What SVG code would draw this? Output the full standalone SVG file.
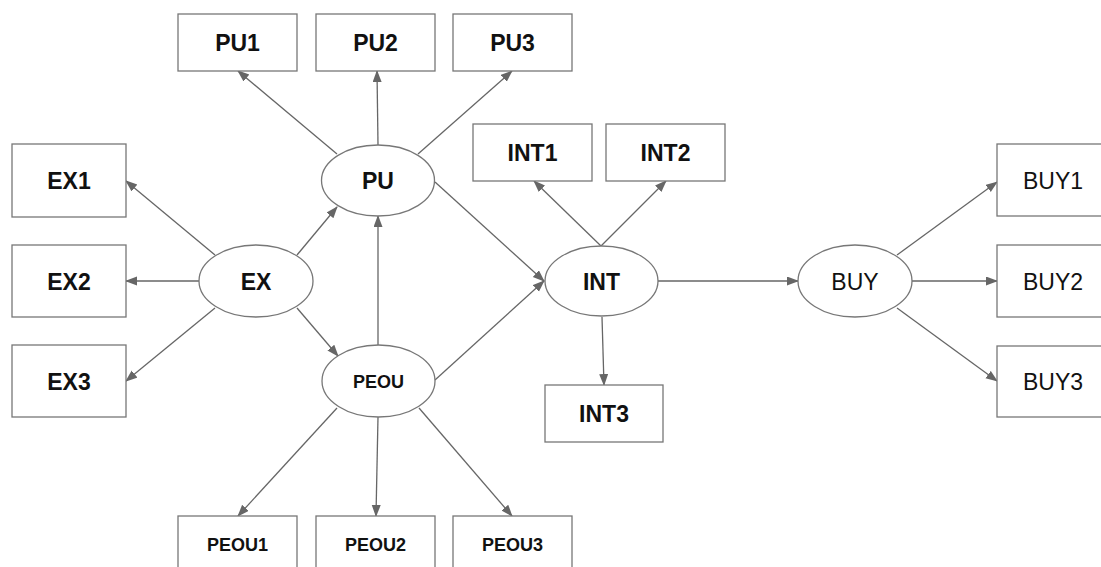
<svg xmlns="http://www.w3.org/2000/svg" width="1101" height="567" viewBox="0 0 1101 567">
<style>
.box{fill:#fff;stroke:#777;stroke-width:1.3}
.ell{fill:#fff;stroke:#777;stroke-width:1.3}
.t{font-family:"Liberation Sans",Arial,sans-serif;font-size:23px;font-weight:bold;fill:#111;text-anchor:middle}
.s{font-size:18px}
.r{font-weight:normal}
.c{stroke:#666;stroke-width:1.3;fill:none;marker-end:url(#ah)}
</style>
<defs>
<marker id="ah" markerUnits="userSpaceOnUse" markerWidth="12" markerHeight="10" refX="11" refY="4.5" orient="auto">
<path d="M0,0 L12,4.5 L0,9 Z" fill="#666"/>
</marker>
</defs>
<rect width="1101" height="567" fill="#fff"/>
<g id="connectors">
<line class="c" x1="337" y1="154" x2="238" y2="71"/>
<line class="c" x1="378" y1="145" x2="377" y2="71"/>
<line class="c" x1="418" y1="154" x2="512" y2="71"/>
<line class="c" x1="435" y1="182" x2="544" y2="281"/>
<line class="c" x1="435" y1="380" x2="544" y2="281"/>
<line class="c" x1="215" y1="255" x2="126" y2="181"/>
<line class="c" x1="199" y1="281" x2="126" y2="281"/>
<line class="c" x1="215" y1="308" x2="126" y2="381"/>
<line class="c" x1="297" y1="255" x2="337" y2="207"/>
<line class="c" x1="297" y1="308" x2="338" y2="356"/>
<line class="c" x1="378" y1="345" x2="378" y2="216"/>
<line class="c" x1="337" y1="408" x2="238" y2="516"/>
<line class="c" x1="378" y1="417" x2="376" y2="516"/>
<line class="c" x1="419" y1="408" x2="512" y2="516"/>
<line class="c" x1="601" y1="246" x2="534" y2="181"/>
<line class="c" x1="601" y1="246" x2="666" y2="181"/>
<line class="c" x1="602" y1="317" x2="604" y2="385"/>
<line class="c" x1="658" y1="281" x2="798" y2="281"/>
<line class="c" x1="897" y1="255" x2="997" y2="182"/>
<line class="c" x1="912" y1="281" x2="997" y2="281"/>
<line class="c" x1="897" y1="308" x2="997" y2="381"/>
</g>
<g id="PU1"><rect class="box" x="178" y="14" width="119" height="57"/><text class="t" x="237.5" y="51">PU1</text></g>
<g id="PU2"><rect class="box" x="316" y="14" width="119" height="57"/><text class="t" x="375.5" y="51">PU2</text></g>
<g id="PU3"><rect class="box" x="453" y="14" width="119" height="57"/><text class="t" x="512.5" y="51">PU3</text></g>
<g id="PU"><ellipse class="ell" cx="378" cy="180.5" rx="56.5" ry="35.5"/><text class="t" x="378" y="189">PU</text></g>
<g id="EX1"><rect class="box" x="12" y="144" width="114" height="73"/><text class="t" x="69" y="189">EX1</text></g>
<g id="EX2"><rect class="box" x="12" y="245" width="114" height="72"/><text class="t" x="69" y="289.5">EX2</text></g>
<g id="EX3"><rect class="box" x="12" y="345" width="114" height="72"/><text class="t" x="69" y="389.5">EX3</text></g>
<g id="EX"><ellipse class="ell" cx="256" cy="281" rx="57" ry="36"/><text class="t" x="256" y="289.5">EX</text></g>
<g id="PEOU"><ellipse class="ell" cx="378.5" cy="381" rx="56.5" ry="36"/><text class="t s" x="378.5" y="387.5">PEOU</text></g>
<g id="PEOU1"><rect class="box" x="178" y="516" width="119" height="60"/><text class="t s" x="237.5" y="551">PEOU1</text></g>
<g id="PEOU2"><rect class="box" x="316" y="516" width="119" height="60"/><text class="t s" x="375.5" y="551">PEOU2</text></g>
<g id="PEOU3"><rect class="box" x="453" y="516" width="119" height="60"/><text class="t s" x="512.5" y="551">PEOU3</text></g>
<g id="INT1"><rect class="box" x="473" y="124" width="119" height="57"/><text class="t" x="532.5" y="161">INT1</text></g>
<g id="INT2"><rect class="box" x="606" y="124" width="119" height="57"/><text class="t" x="665.5" y="161">INT2</text></g>
<g id="INT"><ellipse class="ell" cx="601.5" cy="281" rx="56.5" ry="35"/><text class="t" x="601.5" y="289.5">INT</text></g>
<g id="INT3"><rect class="box" x="545" y="385" width="118" height="57"/><text class="t" x="604" y="422">INT3</text></g>
<g id="BUY"><ellipse class="ell" cx="855" cy="281" rx="57" ry="36"/><text class="t r" x="855" y="289.5">BUY</text></g>
<g id="BUY1"><rect class="box" x="997" y="144" width="114" height="72"/><text class="t r" x="1053" y="189">BUY1</text></g>
<g id="BUY2"><rect class="box" x="997" y="245" width="114" height="72"/><text class="t r" x="1053" y="289.5">BUY2</text></g>
<g id="BUY3"><rect class="box" x="997" y="346" width="114" height="71"/><text class="t r" x="1053" y="390">BUY3</text></g>
</svg>
